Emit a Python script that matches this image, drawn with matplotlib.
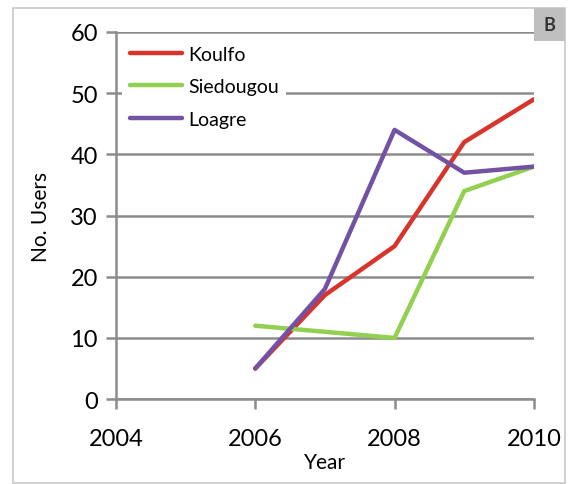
import matplotlib.pyplot as plt
from matplotlib.patches import Rectangle

years = [2006, 2007, 2008, 2009, 2010]
koulfo = [5, 17, 25, 42, 49]
siedougou = [12, 11, 10, 34, 38]
loagre = [5, 18, 44, 37, 38]

plt.rcParams['font.family'] = ['Lato', 'DejaVu Sans']

fig = plt.figure(figsize=(5.71, 4.85), dpi=100)
ax = fig.add_axes([0.203, 0.175, 0.732, 0.757])

ax.plot(years, koulfo, color="#d9342b", lw=3.2, label="Koulfo", solid_capstyle="round")
ax.plot(years, siedougou, color="#92d050", lw=3.2, label="Siedougou", solid_capstyle="round")
ax.plot(years, loagre, color="#7352a3", lw=3.2, label="Loagre", solid_capstyle="round")

ax.set_xlim(2004, 2010)
ax.set_ylim(0, 60)
ax.set_xticks([2004, 2006, 2008, 2010])
ax.set_yticks(range(0, 61, 10))
ax.grid(axis="y", color="#8c8c8c", lw=1.8)
ax.set_axisbelow(True)
for s in ["top", "right"]:
    ax.spines[s].set_visible(False)
for s in ["left", "bottom"]:
    ax.spines[s].set_color("#8c8c8c")
    ax.spines[s].set_linewidth(1.8)
ax.tick_params(colors="#8c8c8c", width=1.8, length=7, labelsize=17, labelcolor="black", pad=6)
ax.tick_params(axis="x", pad=14)

ax.set_xlabel("Year", fontsize=15, labelpad=2)
ax.set_ylabel("No. Users", fontsize=15, labelpad=14)

leg = ax.legend(loc="upper left", fontsize=14, frameon=True, framealpha=1, edgecolor="white",
                handlelength=2.7, labelspacing=0.8, borderaxespad=0.3, borderpad=0.4,
                handletextpad=0.3)
leg.get_frame().set_linewidth(0)

# outer frame and panel letter
fig.patches.append(Rectangle((13 / 571, 1 / 485), 552 / 571, 475 / 485, transform=fig.transFigure,
                             fill=False, edgecolor="#c8c8c8", lw=1.2))
fig.patches.append(Rectangle((534 / 571, 1 - 42 / 485), 31 / 571, 33 / 485, transform=fig.transFigure,
                             facecolor="#bfbfbf", edgecolor="none"))
fig.text(549.5 / 571, 1 - 25.5 / 485, "B", ha="center", va="center", fontsize=13, fontweight="bold", color="#333333")

fig.savefig("out.png", dpi=100)
